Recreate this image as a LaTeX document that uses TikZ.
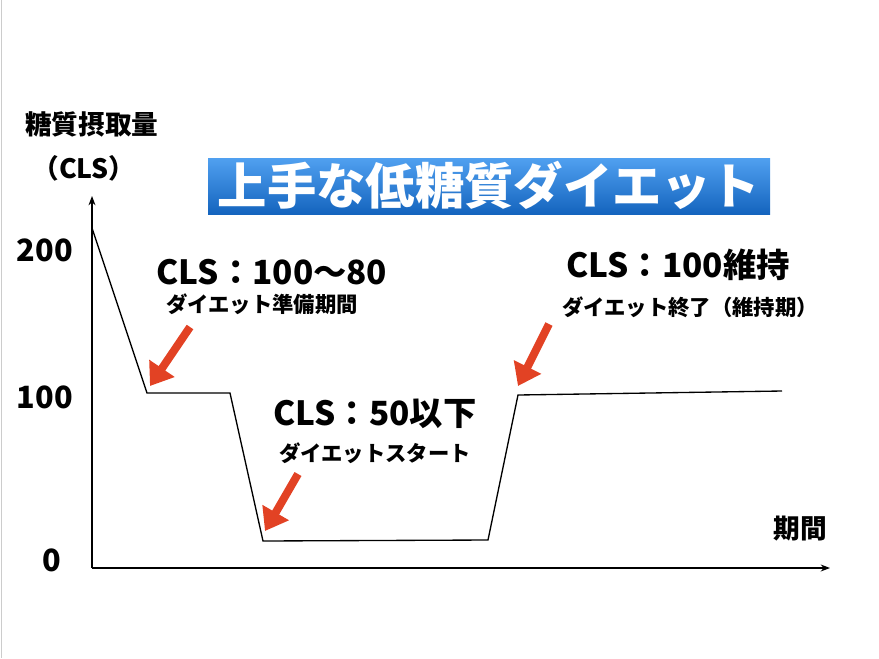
\documentclass[tikz,border=0pt]{standalone}
\usepackage{fontspec}
\setmainfont{Noto Sans CJK JP}
\usetikzlibrary{arrows.meta}
\definecolor{arrowRed}{RGB}{226,66,36}
\definecolor{titleTop}{RGB}{80,160,240}
\definecolor{titleBot}{RGB}{20,100,190}
\tikzset{
  axisLine/.style={thick, -{Stealth[length=7pt]}},
  curveLine/.style={semithick, line width=1pt, line join=miter},
  redArrow/.style={arrowRed, line width=6pt, -{Triangle[length=16pt,width=22pt]}},
  bigLabel/.style={font=\bfseries\fontsize{25}{27}\selectfont},
  smallLabel/.style={font=\bfseries\fontsize{16}{18}\selectfont},
  axisText/.style={font=\bfseries\fontsize{20}{22}\selectfont},
  tickLabel/.style={font=\bfseries\fontsize{23}{25}\selectfont}
}
\begin{document}
\begin{tikzpicture}[x=0.75pt,y=-0.75pt]
  \useasboundingbox (0,0) rectangle (879,658);
  \draw[gray!40] (1,0) -- (1,658);
  % axes
  \coordinate (o) at (92,568);
  \coordinate (ytop) at (92,196);
  \coordinate (xend) at (830,568);
  \draw[axisLine] (o) -- (ytop);
  \draw[axisLine] (o) -- (xend);
  % the CLS curve
  \coordinate (p0) at (92,228);
  \coordinate (p1) at (147,393);
  \coordinate (p2) at (230,393);
  \coordinate (p3) at (263,541);
  \coordinate (p4) at (488,540);
  \coordinate (p5) at (518,395);
  \coordinate (p6) at (782,391);
  \draw[curveLine] (p0) -- (p1) -- (p2) -- (p3) -- (p4) -- (p5) -- (p6);
  % axis labels
  \node[tickLabel] (t200) at (45,250) {200};
  \node[tickLabel] (t100) at (45,397) {100};
  \node[tickLabel] (t0) at (52,560) {0};
  \node[axisText] (ylab) at (92,124) {糖質摂取量};
  \node[axisText] (ycls) at (84,168) {（CLS）};
  \node[axisText] (xlab) at (800,529) {期間};
  % title
  \shade[top color=titleTop, bottom color=titleBot] (208,158) rectangle (770,214);
  \node[white, font=\bfseries\fontsize{37}{39}\selectfont] (title) at (489,185) {上手な低糖質ダイエット};
  % phase labels
  \node[bigLabel] (prep) at (272,272) {CLS：100〜80};
  \node[smallLabel] (prepSub) at (262,304) {ダイエット準備期間};
  \node[bigLabel] (start) at (375,414) {CLS：50以下};
  \node[smallLabel] (startSub) at (375,453) {ダイエットスタート};
  \node[bigLabel] (keep) at (678,265) {CLS：100維持};
  \node[smallLabel] (keepSub) at (690,307) {ダイエット終了（維持期）};
  % red arrows
  \coordinate (a1) at (190,327);
  \coordinate (a1e) at (150,386);
  \coordinate (a2) at (298,474);
  \coordinate (a2e) at (265,531);
  \coordinate (a3) at (549,324);
  \coordinate (a3e) at (518,386);
  \draw[redArrow] (a1) -- (a1e);
  \draw[redArrow] (a2) -- (a2e);
  \draw[redArrow] (a3) -- (a3e);
\end{tikzpicture}
\end{document}
